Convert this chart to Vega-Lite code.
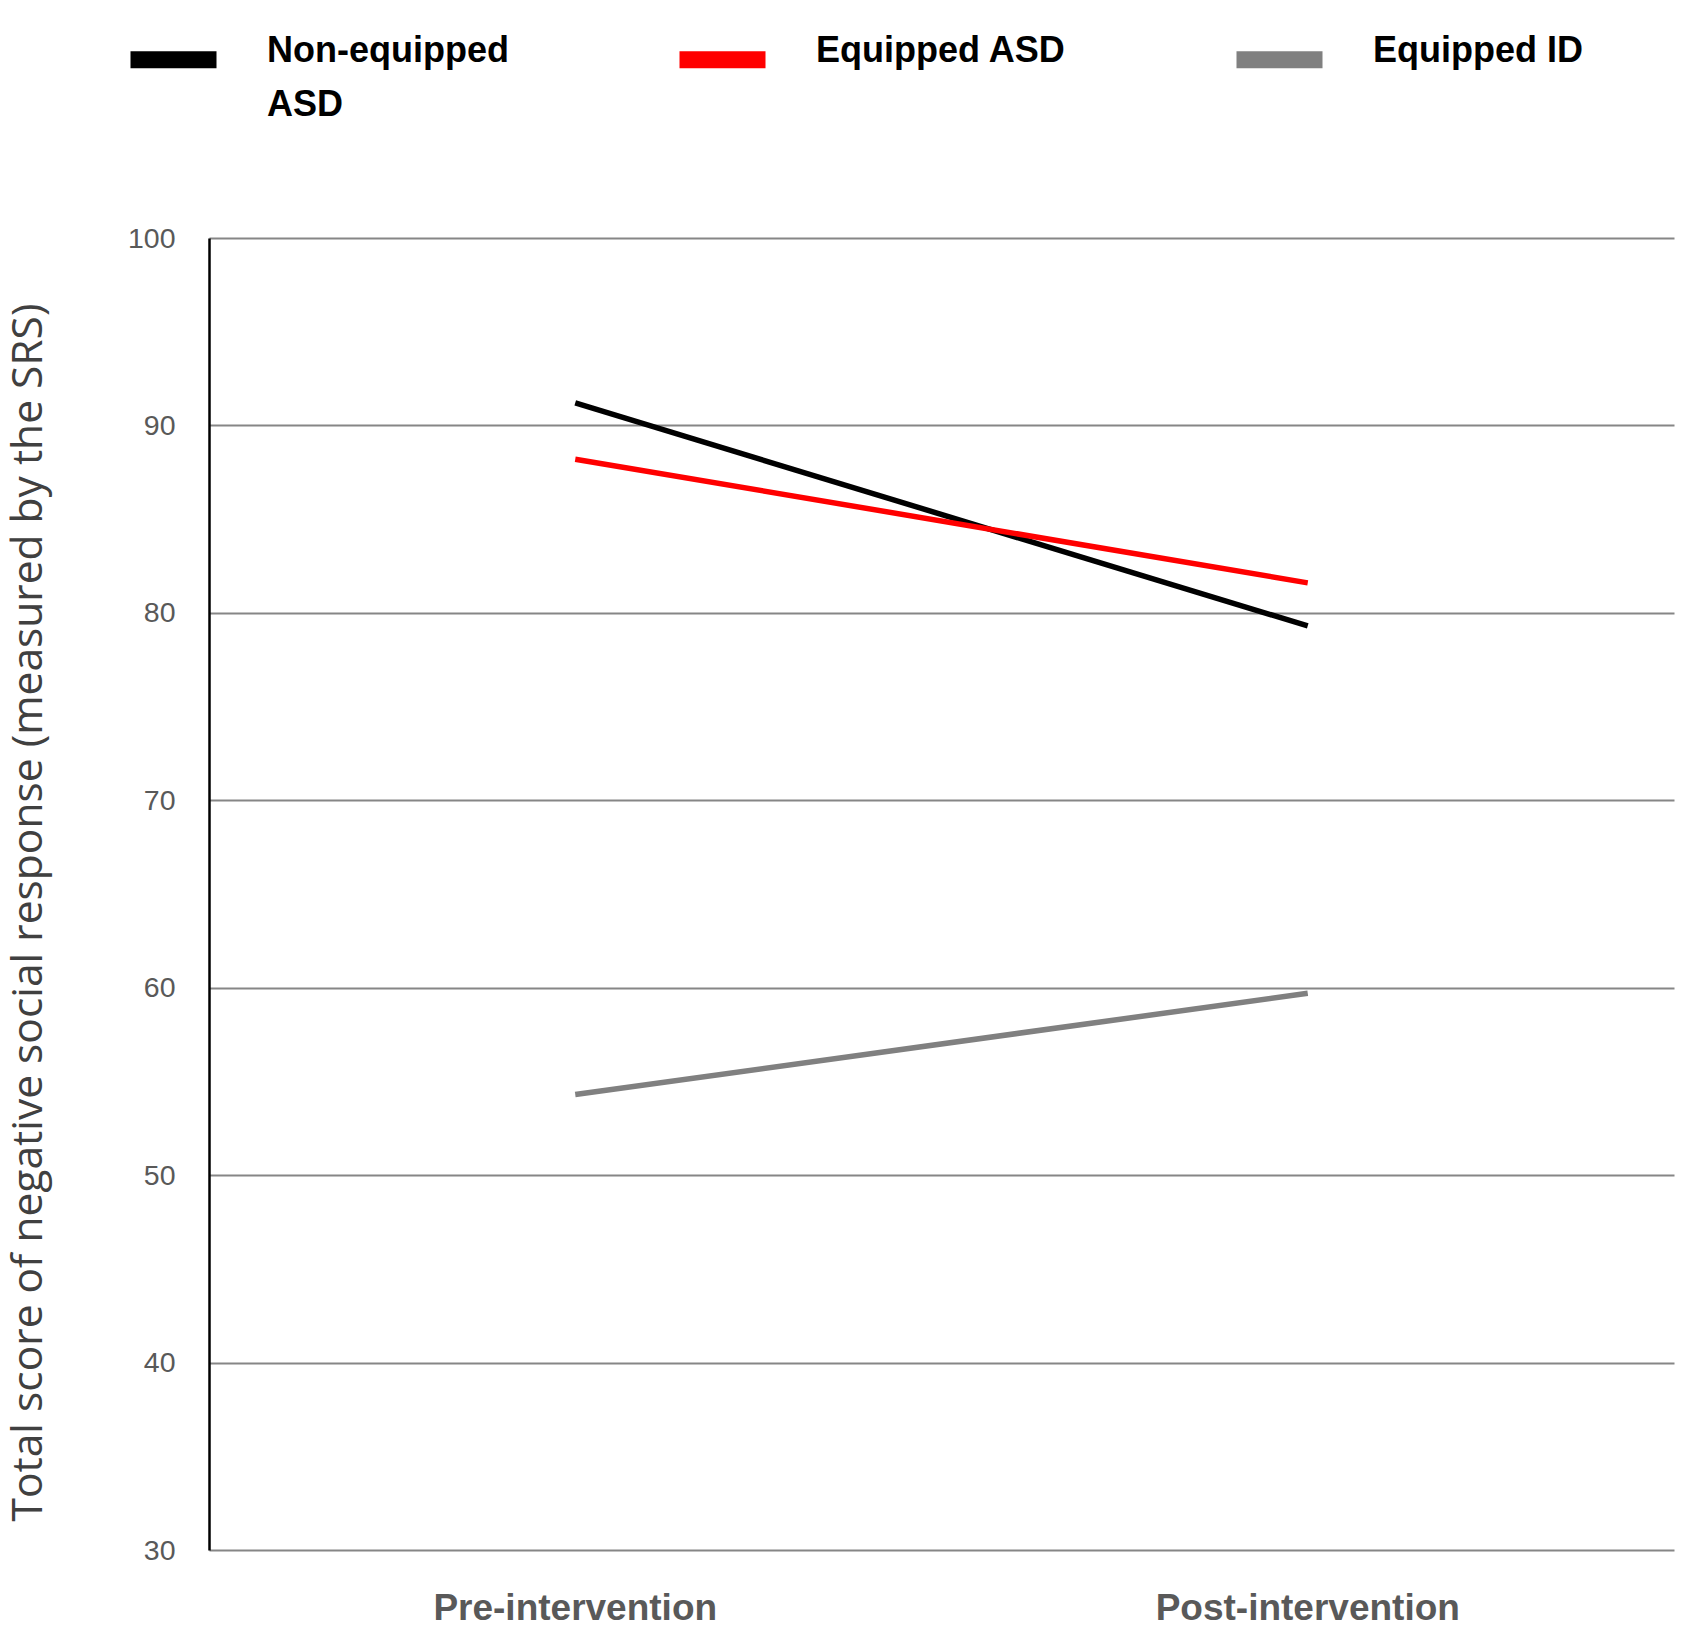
{
  "$schema": "https://vega.github.io/schema/vega-lite/v6.json",
  "autosize": {"type": "none"},
  "width": 1465,
  "height": 1312,
  "padding": {"left": 209, "top": 238, "right": 26, "bottom": 93},
  "background": "white",
  "config": {
    "view": {"stroke": null},
    "axis": {"labelFont": "Liberation Sans", "titleFont": "Open Sans"}
  },
  "data": {
    "values": [
      {"phase": "Pre-intervention", "group": "Non-equipped ASD", "score": 91.2},
      {"phase": "Post-intervention", "group": "Non-equipped ASD", "score": 79.3},
      {"phase": "Pre-intervention", "group": "Equipped ASD", "score": 88.2},
      {"phase": "Post-intervention", "group": "Equipped ASD", "score": 81.6},
      {"phase": "Pre-intervention", "group": "Equipped ID", "score": 54.3},
      {"phase": "Post-intervention", "group": "Equipped ID", "score": 59.7}
    ]
  },
  "mark": {"type": "line", "strokeWidth": 5.5, "strokeCap": "butt"},
  "encoding": {
    "x": {
      "field": "phase",
      "type": "nominal",
      "sort": ["Pre-intervention", "Post-intervention"],
      "scale": {"type": "band", "paddingInner": 0, "paddingOuter": 0},
      "axis": {
        "title": null,
        "domain": false,
        "ticks": false,
        "grid": false,
        "labelAngle": 0,
        "labelFontSize": 37,
        "labelFontWeight": "bold",
        "labelColor": "#595959",
        "labelPadding": 40,
        "labelLimit": 0
      }
    },
    "y": {
      "field": "score",
      "type": "quantitative",
      "scale": {"domain": [30, 100], "nice": false, "zero": false},
      "axis": {
        "title": "Total score of negative social response (measured by the SRS)",
        "titleFontSize": 42.5,
        "titleFontWeight": "normal",
        "titleColor": "#404040",
        "titleX": -159,
        "titleY": 674,
        "titleBaseline": "bottom",
        "values": [30, 40, 50, 60, 70, 80, 90, 100],
        "ticks": false,
        "labelFontSize": 28.5,
        "labelColor": "#595959",
        "labelPadding": 34,
        "domainColor": "#000000",
        "domainWidth": 2.5,
        "grid": true,
        "gridColor": "#868686",
        "gridWidth": 2
      }
    },
    "color": {
      "field": "group",
      "type": "nominal",
      "scale": {
        "domain": ["Non-equipped ASD", "Equipped ASD", "Equipped ID"],
        "range": ["#000000", "#ff0000", "#808080"]
      },
      "legend": {
        "title": null,
        "orient": "none",
        "legendX": -87,
        "legendY": -230,
        "direction": "horizontal",
        "padding": 0,
        "symbolType": "stroke",
        "symbolSize": 7396,
        "symbolStrokeWidth": 17,
        "labelOffset": 42,
        "columnPadding": 136,
        "labelFont": "Liberation Sans",
        "labelFontSize": 36,
        "labelFontWeight": "bold",
        "labelColor": "#000000",
        "labelLimit": 500,
        "labelExpr": "datum.label == 'Non-equipped ASD' ? ['Non-equipped', 'ASD'] : [datum.label, '']",
        "encode": {"labels": {"update": {"lineHeight": {"value": 54}, "dy": {"value": -9}}}}
      }
    }
  }
}
